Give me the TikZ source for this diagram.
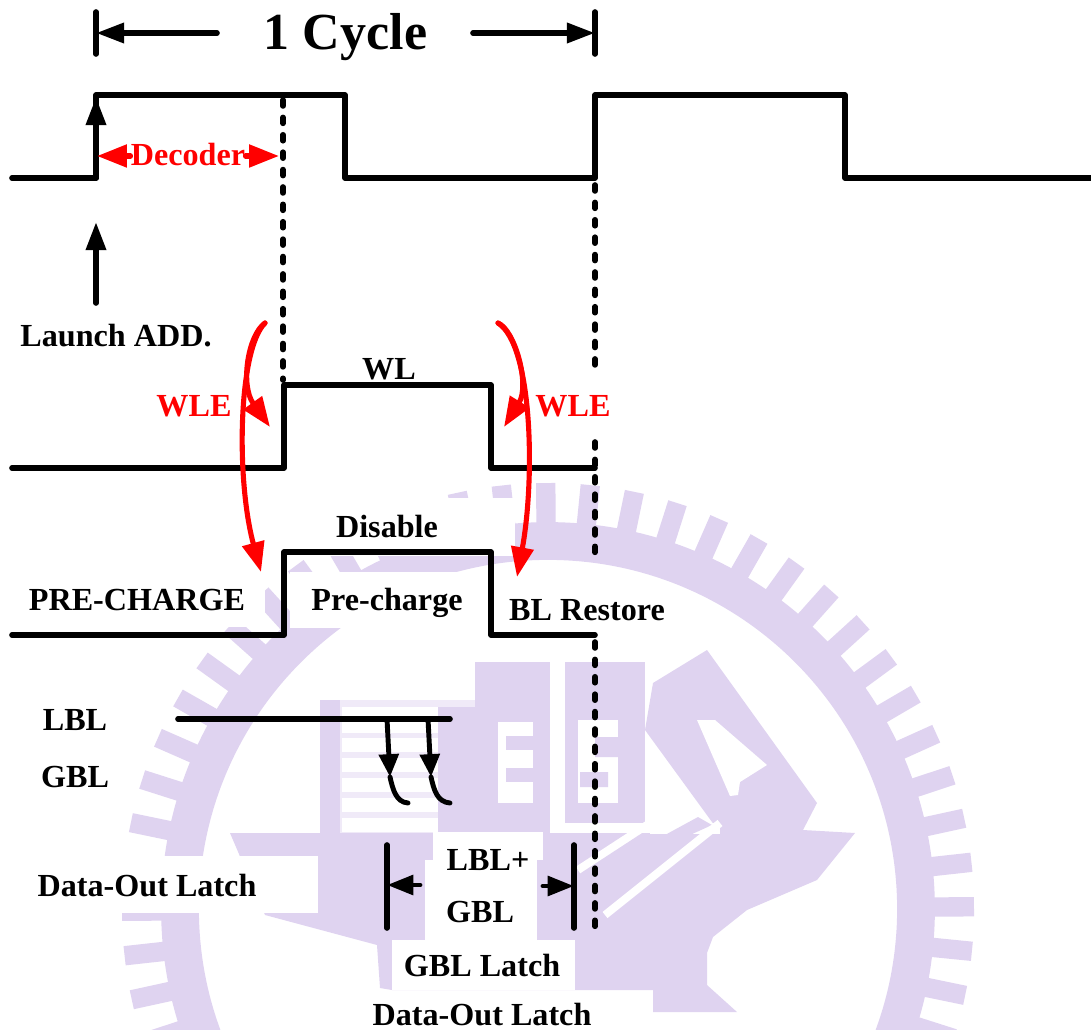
\documentclass[tikz,border=0pt]{standalone}
\usepackage{fontspec}
\setmainfont{Liberation Serif}
\usepackage{xcolor}
\usetikzlibrary{calc,arrows.meta,positioning}
\definecolor{seal}{RGB}{223,211,240}
\definecolor{sealpale}{RGB}{240,234,248}

\begin{document}
\begin{tikzpicture}[x=0.02cm,y=-0.02cm,>={Triangle[length=16pt,width=11pt]},
      trace/.style={line width=3.2pt,line join=round,line cap=round},
      dots/.style={line width=3.2pt,line cap=round,dash pattern=on 3.4pt off 6.5pt},
      flow/.style={red,line width=2.9pt,line cap=round,>={Triangle[length=17pt,width=12.5pt]}},
      lbl/.style={font=\bfseries\fontsize{18.3}{20}\selectfont,inner sep=0pt,anchor=base},
      lblred/.style={lbl,text=red},
      big/.style={font=\bfseries\fontsize{29.6}{32}\selectfont,inner sep=0pt,anchor=base},
      small/.style={line width=2.8pt,>={Triangle[length=13pt,width=11pt]}},
      latcharrow/.style={line width=2.8pt,line cap=round,>={Triangle[length=15pt,width=11pt]}},
      patch/.style={fill=white,draw=none},
      tooth/.style={draw=seal,line width=11pt}]
    \useasboundingbox (0,0) rectangle (1091,1030);
    % SEAL: ring with teeth
    \begin{scope}[shift={(548,909)}]
      \draw[seal,line width=21.5pt] (0,0) circle [radius=368];
      \foreach \a in {-258.3,-252.3,...,30} \draw[tooth] (\a:380) -- (\a:426);
    \end{scope}
    % SEAL: blocks in the middle
    \fill[seal] (653,683) -- (707,650) -- (817,803) -- (803,830) -- (855,833) -- (817,880) -- (747,910)
      -- (713,937) -- (707,953) -- (707,985) -- (737,1012) -- (653,1012) -- (653,990) -- (392,990)
      -- (380,988) -- (377,945) -- (265,915) -- (230,833) -- (720,833) -- (645,730) -- cycle;
    \fill[seal] (320,700) rectangle (475,833);
    \fill[seal] (475,662) rectangle (550,833);
    \fill[seal] (565,662) rectangle (645,823);
    \fill[sealpale] (340,700) rectangle (475,707);
    \fill[sealpale] (340,707) rectangle (438,833);
    \fill[white] (342,707) rectangle (438,733);
    \foreach \y in {738,758,778,798,818} \fill[white] (342,\y) rectangle (438,\y+14);
    \fill[white] (498,722) rectangle (533,803);
    \foreach \y in {736,768} \fill[seal] (506,\y) rectangle (533,\y+14);
    \fill[white] (578,720) rectangle (618,803);
    \fill[seal] (595,737) rectangle (618,757) (580,772) rectangle (608,787);
    \fill[white] (697,720) -- (715,720) -- (767,765) -- (740,782) -- (738,795) -- (730,796) -- cycle;
    \fill[white] (550,823) rectangle (650,833);
    \fill[white] (650,823) -- (720,823) -- (720,834) -- (650,834) -- cycle;
    \fill[seal] (698,817) -- (712,825) -- (690,835) -- (665,835) -- cycle;
    \draw[white,line width=4.5pt] (720,823) -- (605,915) (650,823) -- (578,870);
    % white behind the labels
    \fill[patch] (0,470) rectangle (445,498);
    \fill[patch] (0,498) rectangle (515,556);
    \fill[patch] (0,556) rectangle (265,627);
    \fill[patch] (265,556) rectangle (284,585);
    \fill[patch] (290,572) rectangle (485,628);
    \fill[patch] (118,856) rectangle (318,913);
    \fill[patch] (433,832) rectangle (543,860);
    \fill[patch] (425,860) rectangle (537,940);
    \fill[patch] (392,940) rectangle (575,990);
    % TOP: clock and the cycle mark
    \draw[trace] (12,178) -- (96,178) -- (96,95) -- (345,95) -- (345,178) -- (595,178) -- (595,95)
      -- (845,95) -- (845,178) -- (1091,178);
    \node[big] (cycle) at (345.5,50) {1 Cycle};
    \coordinate (cycL) at (96,33);
    \coordinate (cycR) at (595,33);
    \coordinate (cycLs) at (217,33);
    \coordinate (cycRs) at (473,33);
    \draw[trace] (96,12) -- (cycL) -- (96,54);
    \draw[trace] (595,12) -- (cycR) -- (595,54);
    \draw[trace,->] (cycLs) -- (cycL);
    \draw[trace,->] (cycRs) -- (cycR);
    \coordinate (upA) at (96,178);
    \coordinate (upB) at (96,97);
    \coordinate (upC) at (96,303);
    \coordinate (upD) at (96,222);
    \draw[trace,->] (upA) -- (upB);
    \draw[trace,->] (upC) -- (upD);
    \node[lbl] (launch) at (116,346) {Launch ADD.};
    \node[lblred] (decoder) at (188,166) {Decoder};
    \coordinate (decL) at (97,156);
    \coordinate (decR) at (279,156);
    \draw[flow,->] (decoder.west |- decL) -- (decL);
    \draw[flow,->] (decoder.east |- decR) -- (decR);
    % dotted guides
    \draw[dots] (283,100) -- (283,380);
    \draw[dots] (595,185) -- (595,375);
    \draw[dots] (595,442) -- (595,563);
    \draw[dots] (595,642) -- (595,928);
    % WL and PRE-CHARGE
    \draw[trace] (12,468) -- (284,468) -- (284,385) -- (491,385) -- (491,468) -- (595,468);
    \draw[trace] (12,635) -- (284,635) -- (284,552) -- (491,552) -- (491,635) -- (595,635);
    \node[lbl] (wl) at (389,379) {WL};
    \node[lblred] (wleL) at (194,416) {WLE};
    \node[lblred] (wleR) at (573,416) {WLE};
    \node[lbl] (disable) at (387,537) {Disable};
    \node[lbl] (precharge) at (137,610) {PRE-CHARGE};
    \node[lbl] (pre) at (387,610) {Pre-charge};
    \node[lbl] (restore) at (587,620) {BL Restore};
    % WLE curves
    \coordinate (wleA) at (265,323);
    \coordinate (wleB) at (498,323);
    \coordinate (tipA) at (270,427);
    \coordinate (tipB) at (261,572);
    \coordinate (tipC) at (504,427);
    \coordinate (tipD) at (517,577);
    \draw[flow,->] (wleA) .. controls (248,335) and (240,385) .. (tipA);
    \draw[flow,->] (wleA) .. controls (238,350) and (236,480) .. (tipB);
    \draw[flow,->] (wleB) .. controls (515,330) and (530,385) .. (tipC);
    \draw[flow,->] (wleB) .. controls (533,345) and (535,480) .. (tipD);
    % LBL and GBL
    \node[lbl] (lbl) at (75,730) {LBL};
    \node[lbl] (gbl) at (75,787) {GBL};
    \coordinate (busL) at (178,719);
    \coordinate (busR) at (450,719);
    \draw[trace] (busL) -- (busR);
    \foreach \n/\xa/\xb/\xc in {a/387/390/408,b/428/431/450} {
      \coordinate (top\n) at (\xa,719);
      \coordinate (mid\n) at (\xb,777);
      \coordinate (end\n) at (\xc,803);
      \draw[small,->] (top\n) -- (mid\n);
      \draw[small,line cap=round] (mid\n) .. controls (\xb+3,790) and (\xb+6,802) .. (end\n);
    }
    % latch window
    \node[lbl] (latch) at (147,896) {Data-Out Latch};
    \node[lbl] (sumA) at (488,870) {LBL+};
    \node[lbl] (sumB) at (480,922) {GBL};
    \node[lbl] (gbllatch) at (482,976) {GBL Latch};
    \node[lbl] (outlatch) at (482,1025) {Data-Out Latch};
    \coordinate (barL) at (387,885);
    \coordinate (barR) at (574,886);
    \coordinate (inL) at (420,885);
    \coordinate (inR) at (543,886);
    \draw[trace] (387,845) -- (barL) -- (387,928);
    \draw[trace] (574,845) -- (barR) -- (574,928);
    \draw[latcharrow,->] (inL) -- (barL);
    \draw[latcharrow,->] (inR) -- (barR);
  \end{tikzpicture}
\end{document}
